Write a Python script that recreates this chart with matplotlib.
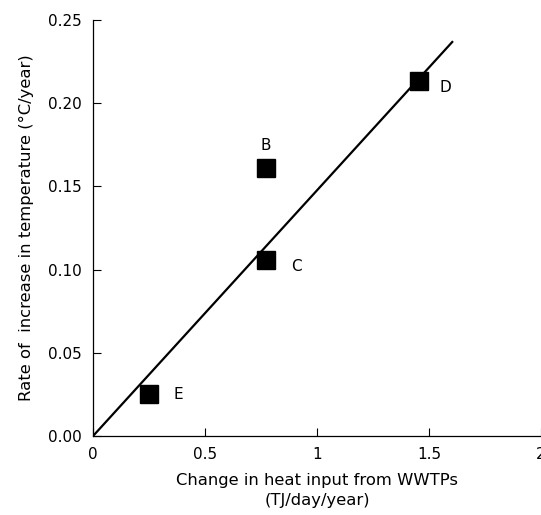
import matplotlib
matplotlib.use('Agg')
import matplotlib.pyplot as plt
import numpy as np

# sites and measured values
sites = ['B', 'C', 'D', 'E']
heat_input = [0.77, 0.77, 1.455, 0.25]
temp_rate = [0.161, 0.106, 0.2135, 0.0255]

# regression line end points
fit_x = [0.0, 1.607]
fit_y = [0.0, 0.2373]

# label offsets in points
offsets = {'B': (0, 16), 'C': (22, -5), 'D': (19, -5), 'E': (21, -1)}

plt.rcParams['font.family'] = 'DejaVu Sans'

fig = plt.figure(figsize=(5.41, 5.15), dpi=100)
ax = fig.add_axes([0.172, 0.1534, 0.828, 0.8077])

ax.plot(fit_x, fit_y, color='black', lw=1.6, solid_capstyle='butt')
ax.plot(heat_input, temp_rate, 's', color='black', markersize=12.5, clip_on=False)

for s, x, y in zip(sites, heat_input, temp_rate):
    ax.annotate(s, (x, y), xytext=offsets[s], textcoords='offset points',
                ha='center', va='center', fontsize=11)

ax.set_xlim(0, 2)
ax.set_ylim(0, 0.25)
ax.set_xticks([0, 0.5, 1, 1.5, 2])
ax.set_xticklabels(['0', '0.5', '1', '1.5', '2'])
ax.set_yticks(np.arange(0, 0.26, 0.05))
ax.set_yticklabels(['0.00', '0.05', '0.10', '0.15', '0.20', '0.25'])
ax.tick_params(direction='in', length=6, width=0.8, labelsize=11)
ax.tick_params(axis='x', pad=8)
ax.tick_params(axis='y', pad=8)

ax.spines['top'].set_visible(False)
ax.spines['right'].set_visible(False)
ax.spines['left'].set_linewidth(0.9)
ax.spines['bottom'].set_linewidth(0.9)

ax.set_xlabel('Change in heat input from WWTPs\n(TJ/day/year)', fontsize=11.8,
              labelpad=8, linespacing=1.4)
ax.set_ylabel('Rate of  increase in temperature (\u00b0C/year)', fontsize=11.8, labelpad=10)

fig.savefig('out.png', dpi=100)
